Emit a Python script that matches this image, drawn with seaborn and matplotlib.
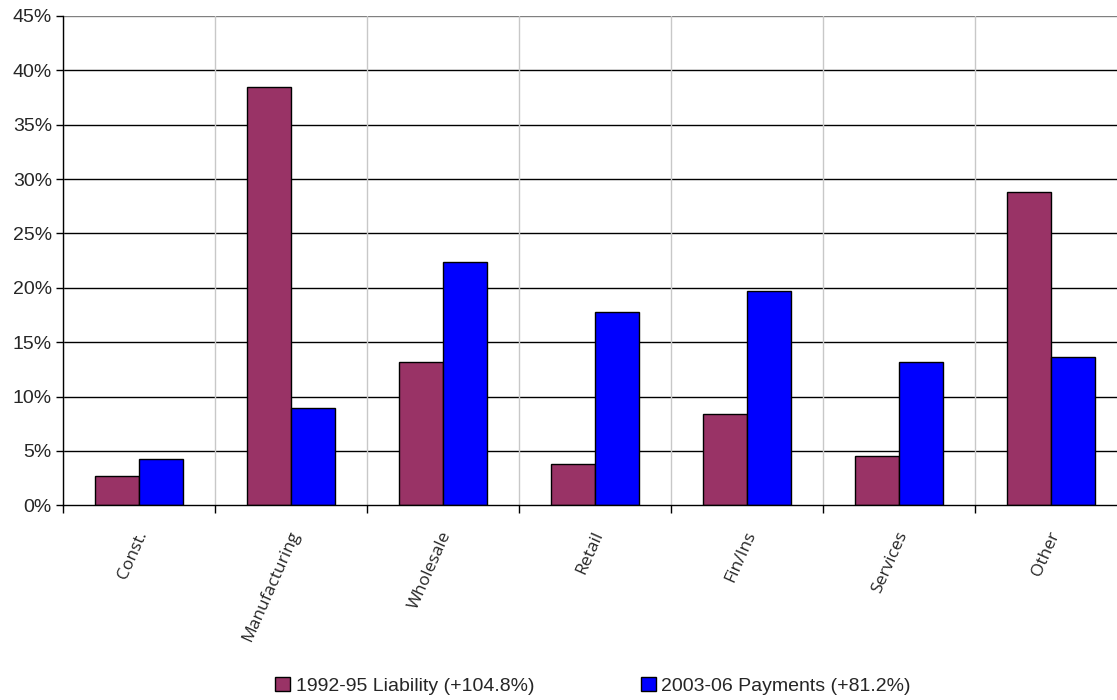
import matplotlib
matplotlib.use("Agg")
import matplotlib.pyplot as plt
import matplotlib.ticker as mticker
import matplotlib.transforms as mtransforms
from matplotlib.patches import Patch
import numpy as np
import pandas as pd
import seaborn as sns

# Industry shares of each measure (percent)
industries = ["Const.", "Manufacturing", "Wholesale", "Retail", "Fin/Ins", "Services", "Other"]
liability_1992_95 = [2.72, 38.45, 13.15, 3.77, 8.37, 4.54, 28.8]
payments_2003_06 = [4.29, 8.98, 22.4, 17.75, 19.7, 13.17, 13.67]
series_names = ["1992-95 Liability (+104.8%)", "2003-06 Payments (+81.2%)"]
series_colors = ["#993366", "#0000FF"]
y_ticks = [0, 5, 10, 15, 20, 25, 30, 35, 40, 45]

df = pd.DataFrame({
    "industry": industries * 2,
    "share": liability_1992_95 + payments_2003_06,
    "series": [series_names[0]] * len(industries) + [series_names[1]] * len(industries),
})

sns.set_theme(style="white")
narrow = ["Liberation Sans Narrow", "Liberation Sans", "DejaVu Sans"]
plt.rcParams["font.family"] = narrow

fig = plt.figure(figsize=(11.17, 7.0), dpi=100)
ax = fig.add_axes([63 / 1117, 194.7 / 700, 1064 / 1117, 489.3 / 700])

sns.barplot(
    data=df, x="industry", y="share", hue="series",
    order=industries, hue_order=series_names,
    palette=series_colors, width=0.58, saturation=1,
    edgecolor="black", linewidth=1.0, legend=False, ax=ax,
)

ax.set_xlim(-0.5, len(industries) - 0.5)
ax.set_ylim(0, 45)
ax.set_yticks(y_ticks)
ax.yaxis.set_major_formatter(mticker.FuncFormatter(lambda v, p: f"{v:.0f}%"))
ax.set_xlabel("")
ax.set_ylabel("")

# Horizontal gridlines and light category separators
ax.set_axisbelow(True)
for v in y_ticks[1:]:
    ax.axhline(v, color="black" if v < 45 else "#808080", linewidth=1.0, zorder=0)
ax.set_xticks(np.arange(-0.5, len(industries) + 0.5, 1), minor=True)
ax.grid(True, which="minor", axis="x", color="#C8C8C8", linewidth=1.0)
ax.grid(False, which="major")

for side in ["top", "right"]:
    ax.spines[side].set_visible(False)
ax.spines["left"].set_color("black")
ax.spines["left"].set_linewidth(1.0)
ax.spines["bottom"].set_color("black")
ax.spines["bottom"].set_linewidth(1.0)

ax.tick_params(axis="y", which="major", direction="out", length=5, width=1,
               color="black", labelsize=14, pad=3, left=True)
ax.tick_params(axis="x", which="major", length=0, pad=17)
ax.tick_params(axis="x", which="minor", direction="out", length=6, width=1,
               color="black", bottom=True)

for lab in ax.get_yticklabels():
    lab.set_family(narrow)
ax.set_xticks(range(len(industries)))
ax.set_xticklabels(industries, rotation=66, ha="right", rotation_mode="anchor",
                   fontsize=12.5, family=["Open Sans", "DejaVu Sans"])
shift = mtransforms.ScaledTranslation(-3 / 100, 0, fig.dpi_scale_trans)
for lab in ax.get_xticklabels():
    lab.set_transform(lab.get_transform() + shift)

handles = [Patch(facecolor=c, edgecolor="black", linewidth=1.0) for c in series_colors]
fig.legend(handles, series_names, loc="center", bbox_to_anchor=(593 / 1117, 1 - 686 / 700),
           ncol=2, frameon=False, handlelength=0.75, handleheight=0.75,
           handletextpad=0.3, columnspacing=5.5, prop={"family": narrow, "size": 14})

fig.savefig("out.png", dpi=100)
